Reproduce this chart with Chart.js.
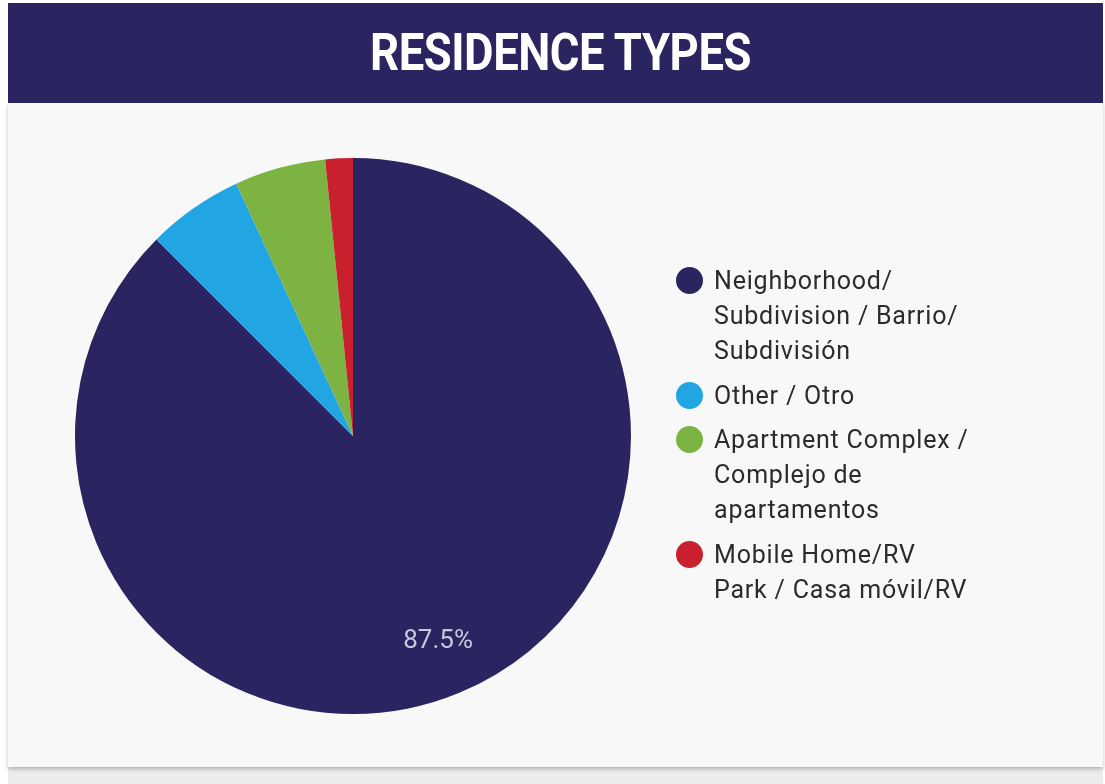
<!DOCTYPE html>
<html>
<head>
<meta charset="utf-8">
<script src="https://cdn.jsdelivr.net/npm/chart.js@4.4.1/dist/chart.umd.min.js"></script>
<style>
  html, body { margin: 0; padding: 0; background: #ffffff; width: 1105px; height: 784px; overflow: hidden; }
  #header { position: absolute; left: 8px; top: 3px; width: 1095px; height: 100px; background: #2a2460; }
  #title { position: absolute; left: 0; top: 0; width: 100%; height: 100%; }
  #titleText { position: absolute; top: 20px; left: 362px; font-family: Roboto, sans-serif; font-weight: 700; font-size: 51px; line-height: 60px; color: #ffffff; white-space: nowrap; transform-origin: 0 0; letter-spacing: -0.5px; }
  #panel { position: absolute; left: 8px; top: 103px; width: 1095px; height: 664px; background: #f8f8f8; box-shadow: 0 2px 4px rgba(0,0,0,0.25); }
  #footer { position: absolute; left: 8px; top: 767px; width: 1095px; height: 17px; background: #ececec; }
  #chartWrap { position: absolute; left: 0; top: 0; width: 1095px; height: 664px; }
  #legend { position: absolute; left: 668px; top: 160px; font-family: Roboto, sans-serif; font-size: 25px; color: #2b2b2b; letter-spacing: 0.8px; }
  .item { position: relative; padding-left: 38px; margin-bottom: 9.5px; }
  .dot { position: absolute; left: 0; top: 4px; width: 27px; height: 27px; border-radius: 50%; }
  .line { height: 35px; line-height: 35px; white-space: nowrap; }
</style>
</head>
<body>
<div id="header"><div id="title"><span id="titleText">RESIDENCE TYPES</span></div></div>
<div id="footer"></div>
<div id="panel">
  <div id="chartWrap"><canvas id="c" width="1095" height="664"></canvas></div>
  <div id="legend"></div>
</div>
<script>
// ---- data ----
const titleText = "RESIDENCE TYPES";
const categories = [
  ["Neighborhood/", "Subdivision / Barrio/", "Subdivisión"],
  ["Other / Otro"],
  ["Apartment Complex /", "Complejo de", "apartamentos"],
  ["Mobile Home/RV", "Park / Casa móvil/RV"]
];
const values = [87.5, 5.6, 5.3, 1.6];
const colors = ["#2a2460", "#22a5e3", "#7cb342", "#c8202d"];

// fit title width
const t = document.getElementById('titleText');
t.textContent = titleText;
const w = t.getBoundingClientRect().width;
t.style.transform = 'scaleX(' + (381 / w) + ')';

const sliceLabels = {
  id: 'sliceLabels',
  afterDatasetsDraw(chart) {
    const ctx = chart.ctx;
    const meta = chart.getDatasetMeta(0);
    const data = chart.data.datasets[0].data;
    const total = data.reduce((a, b) => a + b, 0);
    meta.data.forEach((arc, i) => {
      const pct = data[i] / total * 100;
      if (pct < 10) return;
      const p = arc.getProps(['x', 'y', 'startAngle', 'endAngle', 'outerRadius'], true);
      const mid = (p.startAngle + p.endAngle) / 2;
      const r = p.outerRadius * 0.8;
      ctx.save();
      ctx.font = '400 26px Roboto, sans-serif';
      ctx.fillStyle = '#c8c7dc';
      ctx.textAlign = 'center';
      ctx.textBaseline = 'middle';
      ctx.fillText(pct.toFixed(1) + '%', p.x + Math.cos(mid) * r, p.y + Math.sin(mid) * r);
      ctx.restore();
    });
  }
};

const chart = new Chart(document.getElementById('c'), {
  type: 'pie',
  data: {
    labels: categories,
    datasets: [{ data: values, backgroundColor: colors, borderWidth: 0 }]
  },
  options: {
    responsive: false,
    animation: false,
    layout: { padding: { left: 67, top: 55, right: 472, bottom: 53 } },
    plugins: {
      legend: { display: false },
      tooltip: { enabled: false }
    }
  },
  plugins: [sliceLabels]
});

// HTML legend built from chart's labels
const legendEl = document.getElementById('legend');
const items = Chart.overrides.pie.plugins.legend.labels.generateLabels(chart);
items.forEach((it, i) => {
  const div = document.createElement('div');
  div.className = 'item';
  const dot = document.createElement('span');
  dot.className = 'dot';
  dot.style.background = it.fillStyle;
  div.appendChild(dot);
  const lines = Array.isArray(chart.data.labels[i]) ? chart.data.labels[i] : [chart.data.labels[i]];
  lines.forEach(l => {
    const ln = document.createElement('div');
    ln.className = 'line';
    ln.textContent = l;
    div.appendChild(ln);
  });
  legendEl.appendChild(div);
});
</script>
</body>
</html>
